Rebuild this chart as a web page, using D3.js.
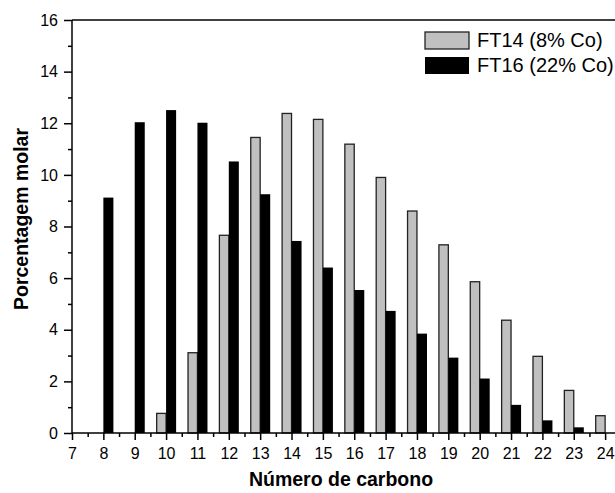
<!DOCTYPE html>
<html>
<head>
<meta charset="utf-8">
<script src="https://cdn.jsdelivr.net/npm/d3@7"></script>
<style>
  html, body { margin: 0; padding: 0; background: #fff; }
  svg { display: block; font-family: "Liberation Sans", Arial, sans-serif; }
</style>
</head>
<body>
<svg id="chart" width="615" height="493"></svg>
<script>
// Carbon numbers and molar percentages for each catalyst
const carbonNumbers = [8, 9, 10, 11, 12, 13, 14, 15, 16, 17, 18, 19, 20, 21, 22, 23, 24];
const ft14Values = [0, 0, 0.76, 3.11, 7.66, 11.45, 12.38, 12.15, 11.19, 9.9, 8.6, 7.29, 5.86, 4.37, 2.97, 1.65, 0.67];
const ft16Values = [9.12, 12.04, 12.51, 12.02, 10.52, 9.25, 7.44, 6.41, 5.54, 4.73, 3.85, 2.92, 2.11, 1.09, 0.49, 0.22, 0];
const seriesNames = ["FT14 (8% Co)", "FT16 (22% Co)"];
const xTickValues = [7, 8, 9, 10, 11, 12, 13, 14, 15, 16, 17, 18, 19, 20, 21, 22, 23, 24];
const yTickValues = [0, 2, 4, 6, 8, 10, 12, 14, 16];

const svg = d3.select("#chart");
const plotLeft = 72, plotTop = 20, plotBottom = 433;
const unit = 31.36;

const x = d3.scaleLinear().domain([7, 25]).range([plotLeft, plotLeft + 18 * unit]);
const y = d3.scaleLinear().domain([0, 16]).range([plotBottom, plotTop]);

const grayW = 0.3, blackW = 0.32;

// FT14 bars sit just left of each tick
svg.append("g").selectAll("rect")
  .data(carbonNumbers.map((c, i) => ({ c, v: ft14Values[i] })).filter(d => d.v > 0))
  .join("rect")
  .attr("x", d => x(d.c - grayW))
  .attr("y", d => y(d.v))
  .attr("width", d => x(d.c) - x(d.c - grayW))
  .attr("height", d => y(0) - y(d.v))
  .attr("fill", "#c0c0c0")
  .attr("stroke", "#222")
  .attr("stroke-width", 1.3);

// FT16 bars sit just right of each tick
svg.append("g").selectAll("rect")
  .data(carbonNumbers.map((c, i) => ({ c, v: ft16Values[i] })).filter(d => d.v > 0))
  .join("rect")
  .attr("x", d => x(d.c))
  .attr("y", d => y(d.v))
  .attr("width", d => x(d.c + blackW) - x(d.c))
  .attr("height", d => y(0) - y(d.v))
  .attr("fill", "#000");

// Frame top line
svg.append("line")
  .attr("x1", plotLeft).attr("x2", 615)
  .attr("y1", plotTop).attr("y2", plotTop)
  .attr("stroke", "#000").attr("stroke-width", 1.5);

// X axis: majors on integers, minors on halves
const xAxis = svg.append("g").attr("transform", `translate(0,${plotBottom})`);
xAxis.append("g").call(d3.axisBottom(x).tickValues(d3.range(7.5, 25, 1)).tickSize(4).tickFormat(""));
xAxis.append("g").call(d3.axisBottom(x).tickValues(xTickValues).tickSize(7).tickFormat(d3.format("d")));
xAxis.selectAll(".domain").remove();
xAxis.append("line").attr("x1", plotLeft).attr("x2", 615).attr("stroke", "#000").attr("stroke-width", 1.5);
xAxis.selectAll(".tick line").attr("stroke-width", 1.5);
xAxis.selectAll(".tick text").attr("font-size", 16).attr("fill", "#000").attr("dy", "1.03em");

// Y axis
const yAxis = svg.append("g").attr("transform", `translate(${plotLeft},0)`);
yAxis.append("g").call(d3.axisLeft(y).tickValues(d3.range(1, 16, 2)).tickSize(4).tickFormat(""));
yAxis.append("g").call(d3.axisLeft(y).tickValues(yTickValues).tickSize(8).tickPadding(6).tickFormat(d3.format("d")));
yAxis.selectAll(".domain").remove();
yAxis.append("line").attr("y1", plotTop).attr("y2", plotBottom).attr("stroke", "#000").attr("stroke-width", 1.5);
yAxis.selectAll(".tick line").attr("stroke-width", 1.5);
yAxis.selectAll(".tick text").attr("font-size", 16).attr("fill", "#000");

// Axis titles
svg.append("text")
  .attr("x", 341).attr("y", 486)
  .attr("text-anchor", "middle")
  .attr("font-size", 19.5).attr("font-weight", "bold")
  .text("Número de carbono");

svg.append("text")
  .attr("transform", "translate(28,219) rotate(-90)")
  .attr("text-anchor", "middle")
  .attr("font-size", 19.5).attr("font-weight", "bold")
  .text("Porcentagem molar");

// Legend
const legend = svg.append("g");
const legendFills = ["#c0c0c0", "#000"];
seriesNames.forEach((name, i) => {
  const yy = 32 + i * 25;
  legend.append("rect")
    .attr("x", 425).attr("y", yy).attr("width", 44).attr("height", 17)
    .attr("fill", legendFills[i])
    .attr("stroke", i === 0 ? "#222" : "none").attr("stroke-width", 1.3);
  legend.append("text")
    .attr("x", 477).attr("y", yy + 15)
    .attr("font-size", 20)
    .text(name);
});
</script>
</body>
</html>
